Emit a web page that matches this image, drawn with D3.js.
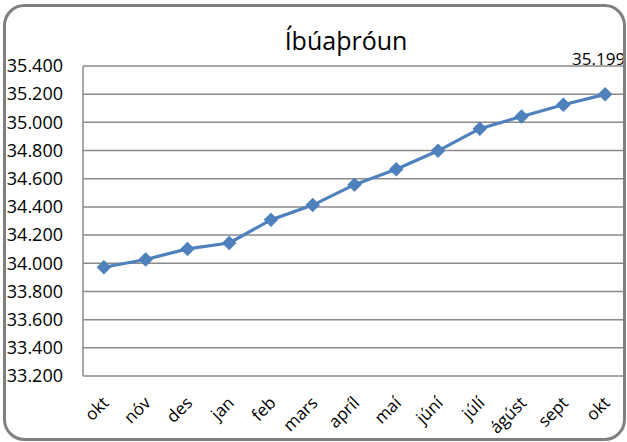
<!DOCTYPE html>
<html>
<head>
<meta charset="utf-8">
<script src="https://cdn.jsdelivr.net/npm/d3@7"></script>
<style>
  html, body { margin: 0; padding: 0; background: #fff; }
  svg { display: block; }
  text { font-family: "Open Sans", "Noto Sans", sans-serif; fill: #000; }
</style>
</head>
<body>
<svg id="chart" width="627" height="442"></svg>
<script>
const title = "Íbúaþróun";
const months = ["okt","nóv","des","jan","feb","mars","apríl","maí","júní","júlí","ágúst","sept","okt"];
const population = [33972, 34027, 34102, 34144, 34308, 34413, 34558, 34667, 34798, 34955, 35042, 35125, 35199];
const yTicks = [33200, 33400, 33600, 33800, 34000, 34200, 34400, 34600, 34800, 35000, 35200, 35400];

const svg = d3.select("#chart");
const W = 627, H = 442;
const plot = { left: 83, right: 626, top: 66, bottom: 376 };

const locale = d3.formatLocale({ decimal: ",", thousands: ".", grouping: [3], currency: ["", ""] });
const fmt = locale.format(",d");

const x = d3.scaleBand().domain(d3.range(months.length)).range([plot.left, plot.right]);
const y = d3.scaleLinear().domain([33200, 35400]).range([plot.bottom, plot.top]);
const cx = i => x(i) + x.bandwidth() / 2;

// gridlines
svg.append("g")
  .selectAll("line")
  .data(yTicks)
  .join("line")
  .attr("x1", plot.left).attr("x2", plot.right)
  .attr("y1", d => y(d)).attr("y2", d => y(d))
  .attr("stroke", "#8a8a8a").attr("stroke-width", 1.5);

// left axis line
svg.append("line")
  .attr("x1", plot.left).attr("x2", plot.left)
  .attr("y1", plot.top).attr("y2", plot.bottom)
  .attr("stroke", "#8a8a8a").attr("stroke-width", 1.5);

// y axis labels
const yAxis = d3.axisLeft(y).tickValues(yTicks).tickFormat(fmt).tickSize(0).tickPadding(0);
const gy = svg.append("g").attr("transform", `translate(${plot.left - 20},0)`).call(yAxis);
gy.select(".domain").remove();
gy.selectAll("text").attr("font-size", 18).attr("font-family", "'Open Sans', sans-serif").attr("fill", "#000");

// x axis labels
svg.append("g")
  .selectAll("text")
  .data(months)
  .join("text")
  .attr("transform", (d, i) => `translate(${cx(i) + 6},${plot.bottom + 28}) rotate(-45)`)
  .attr("text-anchor", "end")
  .attr("font-size", 17)
  .text(d => d);

// line
const line = d3.line().x((d, i) => cx(i)).y(d => y(d));
svg.append("path")
  .datum(population)
  .attr("d", line)
  .attr("fill", "none")
  .attr("stroke", "#4f81bd")
  .attr("stroke-width", 3.2)
  .attr("stroke-linejoin", "round");

// diamond markers
const sym = d3.symbol().type(d3.symbolSquare).size(85);
svg.append("g")
  .selectAll("path")
  .data(population)
  .join("path")
  .attr("d", sym)
  .attr("transform", (d, i) => `translate(${cx(i)},${y(d)}) rotate(45)`)
  .attr("fill", "#4f81bd")
  .attr("stroke", "#4a7ebb")
  .attr("stroke-width", 1);

// data label for last point
const last = population.length - 1;
svg.append("text")
  .attr("x", cx(last) + 20)
  .attr("y", y(population[last]) - 29)
  .attr("text-anchor", "end")
  .attr("font-size", 17)
  .text(fmt(population[last]));

// title
svg.append("text")
  .attr("x", 346)
  .attr("y", 50)
  .attr("text-anchor", "middle")
  .attr("font-size", 25)
  .text(title);

// outer rounded border
svg.append("rect")
  .attr("x", 4.5).attr("y", 5.5)
  .attr("width", 620).attr("height", 434)
  .attr("rx", 20).attr("ry", 20)
  .attr("fill", "none")
  .attr("stroke", "#808080")
  .attr("stroke-width", 3);
</script>
</body>
</html>
